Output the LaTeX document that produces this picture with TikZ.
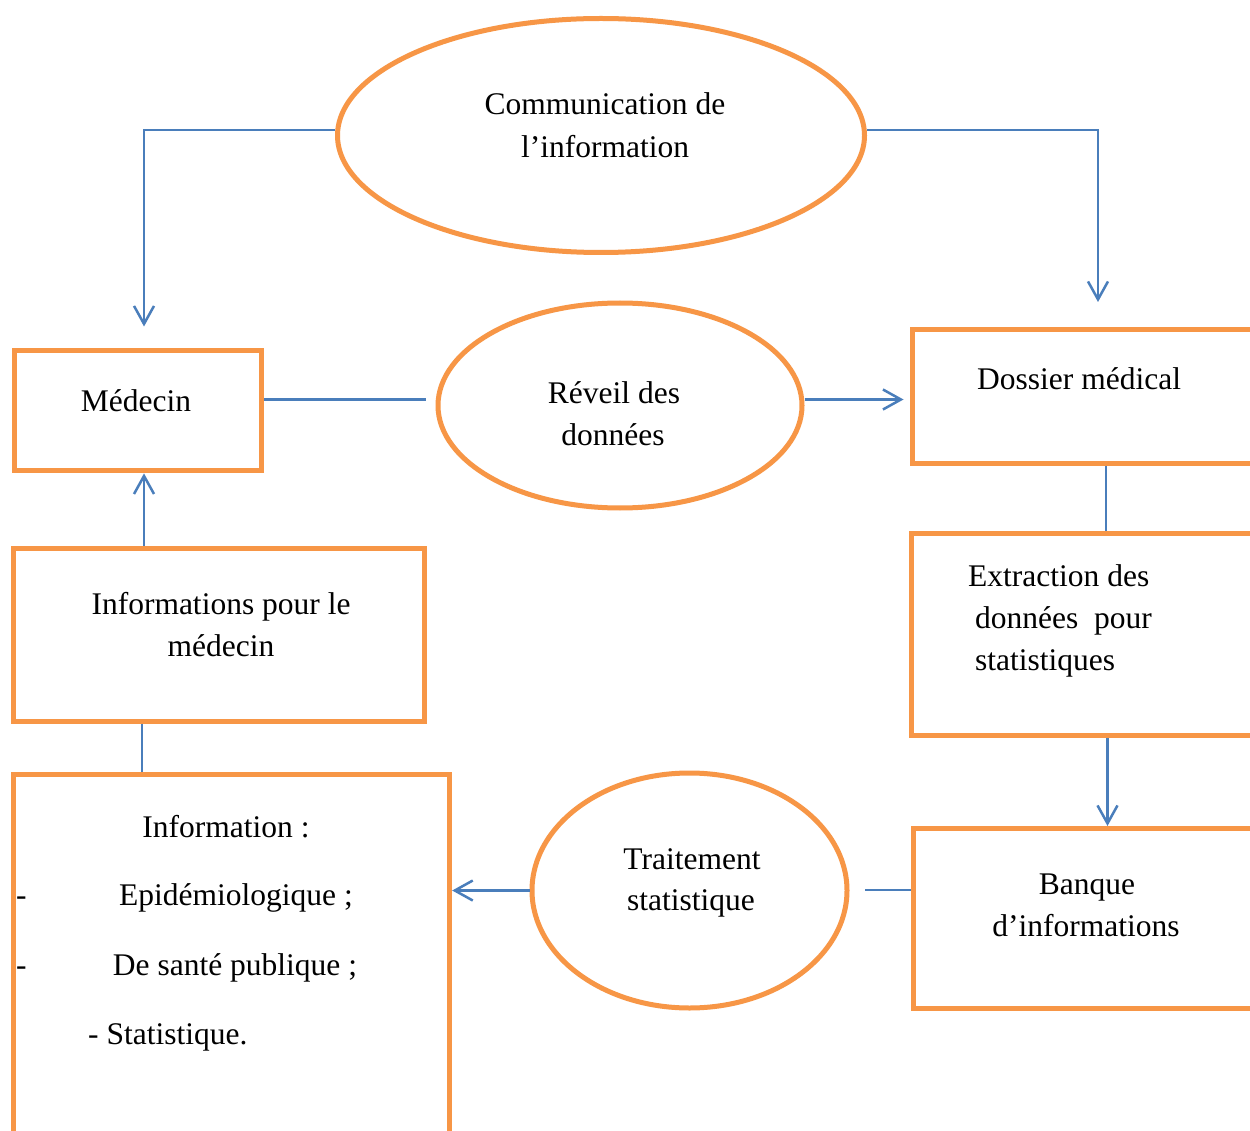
\documentclass[tikz,border=0pt]{standalone}
\usepackage{fontspec}
\setmainfont{Liberation Serif}
\usetikzlibrary{shapes.geometric,arrows.meta}
\definecolor{orng}{HTML}{F79646}
\definecolor{blu}{HTML}{4A7EBB}
\newcommand\dfont{\fontsize{31.5}{42}\selectfont}
\begin{document}
\begin{tikzpicture}[x=1pt,y=-1pt,
  box/.style={draw=orng, line width=5pt, rectangle, inner sep=0pt},
  ell/.style={draw=orng, line width=5pt, ellipse, inner sep=0pt},
  lbl/.style={font=\dfont, anchor=base, inner sep=0pt, text=black},
  lbll/.style={lbl, anchor=base west},
  conn/.style={draw=blu, line width=2.5pt},
  arr/.style={conn, -{Straight Barb[length=18pt,width=20pt]}}]
\useasboundingbox (0,0) rectangle (1250,1131);
\clip (0,0) rectangle (1250,1131);
\fill[white] (0,0) rectangle (1250,1131);

% shapes
\node[ell, minimum width=527, minimum height=234] (top) at (601,135.5) {};
\node[ell, minimum width=364, minimum height=205] (rev) at (620,405.5) {};
\node[ell, minimum width=315, minimum height=235] (tra) at (689.5,890.5) {};
\node[box, minimum width=247, minimum height=120] (med) at (138.4,410.9) {};
\node[box, minimum width=408, minimum height=133.5] (dos) at (1116,396.25) {};
\node[box, minimum width=409, minimum height=202.5] (ext) at (1115.5,634.25) {};
\node[box, minimum width=407, minimum height=179.5] (ban) at (1116.5,918.25) {};
\node[box, minimum width=411, minimum height=173] (ipm) at (218.5,634.5) {};
\node[box, minimum width=436.7, minimum height=426] (inf) at (231.35,987) {};

% texts
\node[lbl] (t1) at (605,115) {Communication de};
\node[lbl] (t2) at (605,158) {l’information};
\node[lbl] (t3) at (614,403) {Réveil des};
\node[lbl] (t4) at (613,445) {données};
\node[lbl] (t5) at (136,411) {Médecin};
\node[lbll] (t6) at (977,389) {Dossier médical};
\node[lbll] (t7) at (968,586.5) {Extraction des};
\node[lbll] (t8) at (975,628) {données~ pour};
\node[lbll] (t9) at (975,670) {statistiques};
\node[lbl] (t10) at (221,614) {Informations pour le};
\node[lbl] (t11) at (221,656) {médecin};
\node[lbl] (t12) at (692,869) {Traitement};
\node[lbl] (t13) at (691,910) {statistique};
\node[lbl] (t14) at (1087,894) {Banque};
\node[lbl] (t15) at (1086,936) {d’informations};
\node[lbl] (t16) at (226,837.5) {Information :};
\node[lbll] (t17) at (16,905.5) {-};
\node[lbl] (t18) at (236,905.5) {Epidémiologique ;};
\node[lbll] (t19) at (16,975) {-};
\node[lbl] (t20) at (235,975) {De santé publique ;};
\node[lbll] (t21) at (88,1044) {- Statistique.};

% free ends and columns
\coordinate (a1) at (144,326.5);
\coordinate (a2) at (1098,302);
\coordinate (c1) at (426,399.5);
\coordinate (c2) at (903.5,399.5);
\coordinate (c4) at (865,890);
\coordinate (colR1) at (1106,0);
\coordinate (colR2) at (1107.5,0);
\coordinate (colL1) at (142,0);
\coordinate (colL2) at (144,0);

% connectors
\draw[arr] ([yshift=5.5pt]top.west) -| (a1);
\draw[arr] ([yshift=5.5pt]top.east) -| (a2);
\draw[conn] (c1 -| med.east) -- (c1);
\draw[arr] (c2 -| rev.east) -- (c2);
\draw[conn] (dos.south -| colR1) -- (ext.north -| colR1);
\draw[arr] (ext.south -| colR2) -- (ban.north -| colR2);
\draw[conn] (c4) -- (c4 -| ban.west);
\draw[arr] (tra.west) -- (tra.west -| inf.east);
\draw[conn] (ipm.south -| colL1) -- (inf.north -| colL1);
\draw[arr] (ipm.north -| colL2) -- (med.south -| colL2);
\end{tikzpicture}
\end{document}
